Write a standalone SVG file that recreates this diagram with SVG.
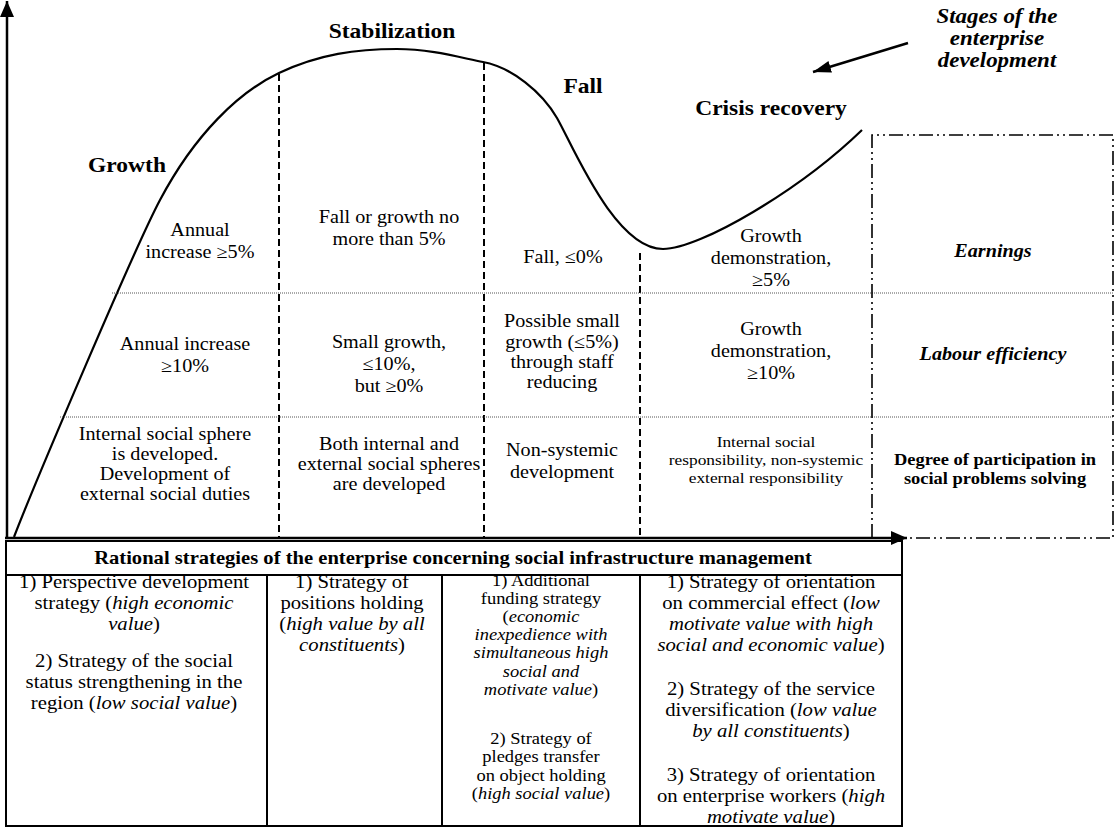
<svg xmlns="http://www.w3.org/2000/svg" width="1116" height="829" viewBox="0 0 1116 829">
<style>
text{font-family:"Liberation Serif","Times New Roman",serif;fill:#000;text-anchor:middle}
.it{font-style:italic}
.title{font-size:21px;font-weight:bold}
.stage{font-size:20.5px;font-weight:bold;font-style:italic}
.lab{font-size:18px;font-weight:bold;font-style:italic}
.deg{font-size:16.5px;font-weight:bold}
.cell{font-size:18px}
.cs{font-size:15.5px}
.tb{font-size:18.5px}
.tbs{font-size:16.5px}
.hdr{font-size:18.4px;font-weight:bold}
.axis{stroke:#000;stroke-width:2.5;fill:none}
.dash{stroke:#000;stroke-width:2;stroke-dasharray:7 4;fill:none}
.dot{stroke:#555;stroke-width:1;stroke-dasharray:1 1;fill:none}
.dd{stroke:#000;stroke-width:1.6;stroke-dasharray:14 4 2 4 2 4;fill:none}
.curve{stroke:#000;stroke-width:2.2;fill:none}
.grid{stroke:#000;stroke-width:2;fill:none}
</style>
<defs>
<marker id="ah" markerWidth="16" markerHeight="14" refX="16" refY="7" orient="auto" markerUnits="userSpaceOnUse"><path d="M0,0 L16,7 L0,14 z" fill="#000"/></marker>
<marker id="ahs" markerWidth="18" markerHeight="12" refX="18" refY="6" orient="auto" markerUnits="userSpaceOnUse"><path d="M0,0 L18,6 L0,12 z" fill="#000"/></marker>
</defs>

<g id="connectors">
<line class="axis" x1="7" y1="539" x2="7" y2="1" marker-end="url(#ah)"/>
<line class="axis" x1="5" y1="538" x2="907" y2="538" marker-end="url(#ah)"/>
<line class="axis" x1="908" y1="43" x2="813" y2="72" marker-end="url(#ahs)"/>
<path class="curve" d="M14,537 C34,485 135,247 160,200 C195,134 239,92 279,73 C319,54 357,49 397,49 C430,49 460,57.5 483,62 C512,67.5 542,92 557,118 C573,146 615,249 663,249 C700,249 800,190 862,130"/>
<line class="dash" x1="279" y1="74" x2="279" y2="537"/>
<line class="dash" x1="484" y1="63" x2="484" y2="537"/>
<line class="dash" x1="640" y1="253" x2="640" y2="537"/>
<line class="dot" x1="112" y1="293" x2="1113" y2="293"/>
<line class="dot" x1="60" y1="417" x2="1113" y2="417"/>
<path class="dd" d="M872,538 V135 H1113 V538 H907"/>
</g>

<g id="stage-titles">
<text class="title" transform="translate(392 0) scale(1.12 1)" x="0" y="38">Stabilization</text>
<text class="title" transform="translate(127 0) scale(1.12 1)" x="0" y="172">Growth</text>
<text class="title" transform="translate(583 0) scale(1.12 1)" x="0" y="93">Fall</text>
<text class="title" transform="translate(771 0) scale(1.12 1)" x="0" y="115">Crisis recovery</text>
</g>

<g id="stages-label">
<text class="stage" transform="translate(997 0) scale(1.12 1)"><tspan x="0" y="23">Stages of the</tspan><tspan x="0" y="45">enterprise</tspan><tspan x="0" y="67">development</tspan></text>
</g>

<g id="row-earnings">
<text class="cell" transform="translate(200 0) scale(1.12 1)"><tspan x="0" y="236">Annual</tspan><tspan x="0" y="258">increase ≥5%</tspan></text>
<text class="cell" transform="translate(389 0) scale(1.12 1)"><tspan x="0" y="223">Fall or growth no</tspan><tspan x="0" y="245">more than 5%</tspan></text>
<text class="cell" transform="translate(563 0) scale(1.12 1)" x="0" y="263">Fall, ≤0%</text>
<text class="cell" transform="translate(771 0) scale(1.12 1)"><tspan x="0" y="242">Growth</tspan><tspan x="0" y="264">demonstration,</tspan><tspan x="0" y="286">≥5%</tspan></text>
<text class="lab" transform="translate(993 0) scale(1.12 1)" x="0" y="257">Earnings</text>
</g>

<g id="row-labour">
<text class="cell" transform="translate(185 0) scale(1.12 1)"><tspan x="0" y="350">Annual increase</tspan><tspan x="0" y="372">≥10%</tspan></text>
<text class="cell" transform="translate(389 0) scale(1.12 1)"><tspan x="0" y="348">Small growth,</tspan><tspan x="0" y="370">≤10%,</tspan><tspan x="0" y="392">but ≥0%</tspan></text>
<text class="cell" transform="translate(562 0) scale(1.12 1)"><tspan x="0" y="327">Possible small</tspan><tspan x="0" y="348">growth (≤5%)</tspan><tspan x="0" y="368">through staff</tspan><tspan x="0" y="388">reducing</tspan></text>
<text class="cell" transform="translate(771 0) scale(1.12 1)"><tspan x="0" y="335">Growth</tspan><tspan x="0" y="357">demonstration,</tspan><tspan x="0" y="379">≥10%</tspan></text>
<text class="lab" transform="translate(993 0) scale(1.12 1)" x="0" y="360">Labour efficiency</text>
</g>

<g id="row-social">
<text class="cell" transform="translate(165 0) scale(1.12 1)"><tspan x="0" y="440">Internal social sphere</tspan><tspan x="0" y="460">is developed.</tspan><tspan x="0" y="480">Development of</tspan><tspan x="0" y="500">external social duties</tspan></text>
<text class="cell" transform="translate(389 0) scale(1.12 1)"><tspan x="0" y="450">Both internal and</tspan><tspan x="0" y="470">external social spheres</tspan><tspan x="0" y="490">are developed</tspan></text>
<text class="cell" transform="translate(562 0) scale(1.12 1)"><tspan x="0" y="456">Non-systemic</tspan><tspan x="0" y="478">development</tspan></text>
<text class="cs" transform="translate(766 0) scale(1.12 1)"><tspan x="0" y="447">Internal social</tspan><tspan x="0" y="465">responsibility, non-systemic</tspan><tspan x="0" y="483">external responsibility</tspan></text>
<text class="deg" transform="translate(995 0) scale(1.12 1)"><tspan x="0" y="465">Degree of participation in</tspan><tspan x="0" y="484">social problems solving</tspan></text>
</g>

<g id="strategies-table">
<rect class="grid" x="6" y="541" width="896" height="285"/>
<line class="grid" x1="6" y1="575" x2="902" y2="575"/>
<line class="grid" x1="267" y1="575" x2="267" y2="826"/>
<line class="grid" x1="442" y1="575" x2="442" y2="826"/>
<line class="grid" x1="640" y1="575" x2="640" y2="826"/>
<text class="hdr" transform="translate(453 0) scale(1.12 1)" x="0" y="564">Rational strategies of the enterprise concerning social infrastructure management</text>
<text class="tb" transform="translate(134 0) scale(1.12 1)"><tspan x="0" y="588">1) Perspective development</tspan><tspan x="0" y="609">strategy (<tspan class="it">high economic</tspan></tspan><tspan x="0" y="630"><tspan class="it">value</tspan>)</tspan><tspan x="0" y="667">2) Strategy of the social</tspan><tspan x="0" y="688">status strengthening in the</tspan><tspan x="0" y="709">region (<tspan class="it">low social value</tspan>)</tspan></text>
<text class="tb" transform="translate(352 0) scale(1.12 1)"><tspan x="0" y="588">1) Strategy of</tspan><tspan x="0" y="609">positions holding</tspan><tspan x="0" y="630">(<tspan class="it">high value by all</tspan></tspan><tspan x="0" y="651"><tspan class="it">constituents</tspan>)</tspan></text>
<text class="tbs" transform="translate(541 0) scale(1.12 1)"><tspan x="0" y="586">1) Additional</tspan><tspan x="0" y="604">funding strategy</tspan><tspan x="0" y="622">(<tspan class="it">economic</tspan></tspan><tspan x="0" y="640" class="it">inexpedience with</tspan><tspan x="0" y="658" class="it">simultaneous high</tspan><tspan x="0" y="677" class="it">social and</tspan><tspan x="0" y="695"><tspan class="it">motivate value</tspan>)</tspan><tspan x="0" y="744">2) Strategy of</tspan><tspan x="0" y="762">pledges transfer</tspan><tspan x="0" y="781">on object holding</tspan><tspan x="0" y="799">(<tspan class="it">high social value</tspan>)</tspan></text>
<text class="tb" transform="translate(771 0) scale(1.12 1)"><tspan x="0" y="588">1) Strategy of orientation</tspan><tspan x="0" y="609">on commercial effect (<tspan class="it">low</tspan></tspan><tspan x="0" y="630" class="it">motivate value with high</tspan><tspan x="0" y="651"><tspan class="it">social and economic value</tspan>)</tspan><tspan x="0" y="695">2) Strategy of the service</tspan><tspan x="0" y="716">diversification (<tspan class="it">low value</tspan></tspan><tspan x="0" y="737"><tspan class="it">by all constituents</tspan>)</tspan><tspan x="0" y="781">3) Strategy of orientation</tspan><tspan x="0" y="802">on enterprise workers (<tspan class="it">high</tspan></tspan><tspan x="0" y="823"><tspan class="it">motivate value</tspan>)</tspan></text>
</g>
</svg>
